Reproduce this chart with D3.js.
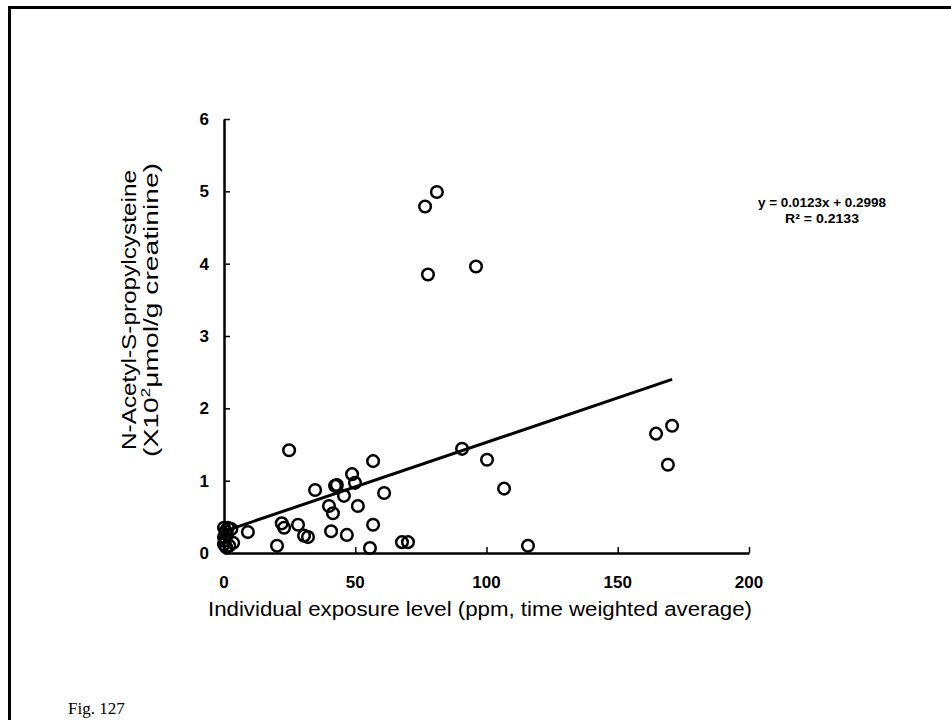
<!DOCTYPE html>
<html>
<head>
<meta charset="utf-8">
<script src="https://cdn.jsdelivr.net/npm/d3@7"></script>
<style>
  body { margin: 0; background: #fff; }
  svg { display: block; }
</style>
</head>
<body>
<svg id="chart"></svg>
<script>
// exposure (ppm TWA) vs N-acetyl-S-propylcysteine
const exposure = [
  76.6, 81.1, 77.7, 96,
  164.6, 170.7, 169.1,
  90.7, 100.2, 106.7, 115.8, 67.8, 70.1, 61,
  24.8, 56.8, 48.8, 49.9, 43, 42.3, 34.7, 45.7, 51, 40, 41.5,
  56.8, 28.2, 22, 22.9, 30.5, 32, 40.8, 46.8, 20.2, 55.6, 9.1,
  0, 0.6, 0, 1.2, 0, 0.8, 2, 3.5, 2.8, 1.5, 0.3
];
const nacpc = [
  4.79, 4.99, 3.85, 3.96,
  1.65, 1.76, 1.22,
  1.44, 1.29, 0.89, 0.10, 0.15, 0.15, 0.83,
  1.42, 1.27, 1.09, 0.97, 0.94, 0.93, 0.87, 0.79, 0.65, 0.65, 0.55,
  0.39, 0.39, 0.41, 0.35, 0.24, 0.22, 0.30, 0.25, 0.10, 0.07, 0.29,
  0.35, 0.30, 0.22, 0.25, 0.12, 0.08, 0.10, 0.14, 0.33, 0.35, 0.17
];
const xTicks = [0, 50, 100, 150, 200];
const yTicks = [0, 1, 2, 3, 4, 5, 6];
const slope = 0.0123;
const intercept = 0.2998;
const fitLabels = ['y = 0.0123x + 0.2998', 'R² = 0.2133'];

const width = 951;
const height = 720;

const svg = d3.select('#chart')
  .attr('width', width)
  .attr('height', height);

// page frame (runs off the right and bottom edge)
svg.append('rect')
  .attr('x', 9.5)
  .attr('y', 7.5)
  .attr('width', 1000)
  .attr('height', 1000)
  .attr('fill', 'none')
  .attr('stroke', '#000')
  .attr('stroke-width', 3);

const xScale = d3.scaleLinear().domain([0, 200]).range([224, 749]);
const yScale = d3.scaleLinear().domain([0, 6]).range([553, 119]);

const points = exposure.map((x, i) => ({ x, y: nacpc[i] }));

// axes, ticks pointing inward
const xAxis = svg.append('g')
  .attr('transform', `translate(0, ${yScale(0)})`)
  .call(d3.axisTop(xScale).tickValues(xTicks).tickSize(6).tickSizeOuter(0).tickFormat(''));
xAxis.select('.domain').attr('stroke-width', 2.5);
xAxis.selectAll('.tick line').attr('stroke-width', 1.5);

const yAxis = svg.append('g')
  .attr('transform', `translate(${xScale(0)}, 0)`)
  .call(d3.axisRight(yScale).tickValues(yTicks).tickSize(6).tickSizeOuter(0).tickFormat(''));
yAxis.select('.domain').attr('stroke-width', 2.5);
yAxis.selectAll('.tick line').attr('stroke-width', 1.5);

svg.selectAll('.xlab')
  .data(xTicks)
  .join('text')
  .attr('x', d => xScale(d))
  .attr('y', 588)
  .attr('text-anchor', 'middle')
  .style('font', 'bold 17px "Liberation Sans", Arial, sans-serif')
  .text(d => d);

svg.selectAll('.ylab')
  .data(yTicks)
  .join('text')
  .attr('x', 209)
  .attr('y', d => yScale(d) + 6)
  .attr('text-anchor', 'end')
  .style('font', 'bold 17px "Liberation Sans", Arial, sans-serif')
  .text(d => d);

// regression line
const fitX = [0, d3.max(exposure)];
svg.append('path')
  .attr('d', d3.line()
    .x(d => xScale(d))
    .y(d => yScale(intercept + slope * d))(fitX))
  .attr('stroke', '#000')
  .attr('stroke-width', 3)
  .attr('fill', 'none');

svg.selectAll('circle')
  .data(points)
  .join('circle')
  .attr('cx', d => xScale(d.x))
  .attr('cy', d => yScale(d.y))
  .attr('r', 5.8)
  .attr('fill', 'none')
  .attr('stroke', '#000')
  .attr('stroke-width', 2.5);

// equation
svg.selectAll('.fit')
  .data(fitLabels)
  .join('text')
  .attr('x', 822)
  .attr('y', (d, i) => 207 + i * 16)
  .attr('text-anchor', 'middle')
  .attr('textLength', (d, i) => i === 0 ? 128 : 74)
  .attr('lengthAdjust', 'spacingAndGlyphs')
  .style('font', 'bold 12px "Liberation Sans", Arial, sans-serif')
  .text(d => d);

// axis titles
svg.append('text')
  .attr('x', 208)
  .attr('y', 616)
  .attr('textLength', 544)
  .attr('lengthAdjust', 'spacingAndGlyphs')
  .style('font', '20px "Liberation Sans", Arial, sans-serif')
  .text('Individual exposure level (ppm, time weighted average)');

const yTitle = svg.append('g')
  .attr('transform', 'translate(0, 310) rotate(-90)')
  .style('font', '21px "Liberation Sans", Arial, sans-serif');
yTitle.append('text')
  .attr('x', -140)
  .attr('y', 136)
  .attr('textLength', 280)
  .attr('lengthAdjust', 'spacingAndGlyphs')
  .text('N-Acetyl-S-propylcysteine');
const line2 = yTitle.append('text')
  .attr('x', -147)
  .attr('y', 158)
  .attr('textLength', 294)
  .attr('lengthAdjust', 'spacingAndGlyphs');
line2.append('tspan').text('(X10');
line2.append('tspan').attr('dy', -8).style('font-size', '13px').text('2');
line2.append('tspan').attr('dy', 8).text('μmol/g creatinine)');

svg.append('text')
  .attr('x', 68)
  .attr('y', 714)
  .style('font', '17px "Liberation Serif", "Times New Roman", serif')
  .text('Fig. 127');
</script>
</body>
</html>
